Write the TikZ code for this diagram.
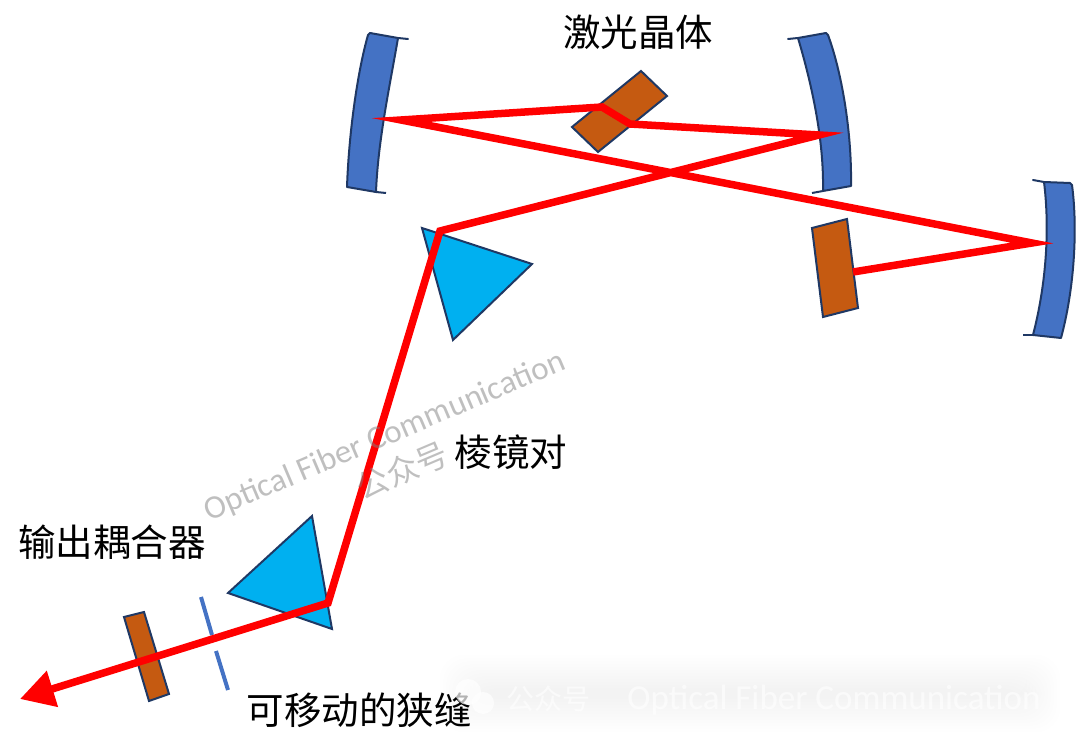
\documentclass[tikz,border=0pt]{standalone}
\usepackage{fontspec}
\setmainfont{Carlito}
\newfontfamily\cjk{Noto Sans CJK SC}
\usetikzlibrary{arrows.meta}
\definecolor{mirrorblue}{HTML}{4472C4}
\definecolor{edgeblue}{HTML}{1F3864}
\definecolor{crystalbrown}{HTML}{C55A11}
\definecolor{prismcyan}{HTML}{00B0F0}
\begin{document}
\begin{tikzpicture}[
    x=1pt, y=-1pt,
    mirror/.style={draw=edgeblue, line width=2pt, fill=mirrorblue, line join=round},
    crystal/.style={draw=edgeblue, line width=2pt, fill=crystalbrown, line join=miter},
    prism/.style={draw=edgeblue, line width=2pt, fill=prismcyan, line join=miter},
    slit/.style={draw=mirrorblue, line width=4pt},
    beam/.style={draw=red, line width=7.5pt, line join=miter, miter limit=12},
    lab/.style={inner sep=0pt, font=\cjk\fontsize{37.5}{37.5}\selectfont},
    wmark/.style={inner sep=0pt, text=gray, text opacity=0.5, rotate=23},
    glow/.style={fill=gray, fill opacity=0.008, rounded corners=24pt},
    foot/.style={inner sep=0pt, text=white, text opacity=0.6}
]
\useasboundingbox (0,0) rectangle (1080,743);

\foreach \d in {0,3,...,33}
    \path[glow] (440+\d,655+\d) rectangle (1060-\d,732-\d);

\path[mirror] (408,39) -- (398,38) .. controls (390,85) and (378,140) .. (376,192) -- (347,187)
    .. controls (349,130) and (358,70) .. (368,35) -- (370,33) -- (398,38) -- cycle;
\draw[mirror] (376,192) -- (386,193);

\path[mirror] (788,39) -- (798,38) .. controls (812,85) and (824,140) .. (823,191) -- (851,186)
    .. controls (852,130) and (841,70) .. (828,35) -- (826,33) -- (798,38) -- cycle;
\draw[mirror] (823,191) -- (812,193);

\path[mirror] (1033,180) -- (1044,182) .. controls (1050,230) and (1046,285) .. (1033,335) -- (1061,338)
    .. controls (1074,290) and (1078,230) .. (1072,185) -- (1070,183) -- (1044,182) -- cycle;
\draw[mirror] (1033,335) -- (1023,335);

\draw[crystal] (641,71) -- (667,96) -- (598,152) -- (572,127) -- cycle;
\draw[crystal] (847,219) -- (858,308) -- (823,317) -- (812,228) -- cycle;
\draw[crystal] (144,612) -- (169,694) -- (149,701) -- (124,617) -- cycle;

\draw[prism] (422,228) -- (532,264) -- (453,340) -- cycle;
\draw[prism] (312,516) -- (228,593) -- (332,629) -- cycle;

\draw[slit] (201,597) -- (212,635);
\draw[slit] (216,651) -- (228,690);

\coordinate (endmirror) at (853,272);
\coordinate (foldc) at (1032,243);
\coordinate (folda) at (401,120);
\coordinate (xtalin) at (602,107);
\coordinate (xtalout) at (630,124);
\coordinate (foldb) at (819,135);
\coordinate (prismup) at (440,231);
\coordinate (prismlow) at (328,603);
\coordinate (output) at (20,699);

\draw[beam, -{Triangle[length=34pt,width=36pt]}] (endmirror) -- (foldc) -- (folda) -- (xtalin) -- (xtalout)
    -- (foldb) -- (prismup) -- (prismlow) -- (output);

\node[lab] (xtallab) at (638,32) {激光晶体};
\node[lab] (prismlab) at (511,452) {棱镜对};
\node[lab] (couplerlab) at (112,542) {输出耦合器};
\node[lab] (slitlab) at (359,710) {可移动的狭缝};

\node[wmark, font=\fontsize{33}{33}\selectfont] (markname) at (385,437) {Optical Fiber Communication};
\node[wmark, font=\cjk\fontsize{32}{32}\selectfont] (markcn) at (402,470) {公众号};

\fill[white, fill opacity=0.7] (468,692) circle (13pt);
\fill[white, fill opacity=0.7] (483,703) circle (11pt);
\node[foot, font=\cjk\fontsize{28}{28}\selectfont] (footcn) at (548,699) {公众号};
\node[foot, font=\fontsize{35}{35}\selectfont] (footname) at (834,700) {Optical Fiber Communication};
\end{tikzpicture}
\end{document}
